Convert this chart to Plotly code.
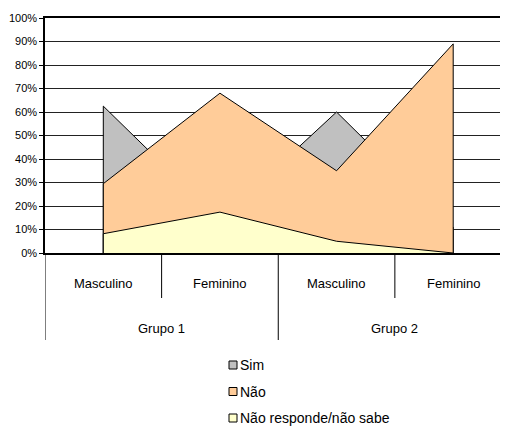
import plotly.graph_objects as go

categories = ["Masculino", "Feminino", "Masculino", "Feminino"]
groups = ["Grupo 1", "Grupo 2"]
series_names = ["Sim", "Não", "Não responde/não sabe"]
sim = [0.625, 0.14, 0.60, 0.11]
nao = [0.295, 0.68, 0.35, 0.89]
nao_resp = [0.082, 0.174, 0.05, 0.0]
y_ticks = [i / 10 for i in range(11)]

colors = ["#C0C0C0", "#FFCC99", "#FFFFCC"]
OFF = 8  # page body margin
W, H = 508 - OFF, 428 - OFF
L, T = 45 - OFF, 18 - OFF
B = H - (253 - OFF)
PW, PH = W - L, H - T - B
FONT = "Liberation Sans, Arial, sans-serif"

def px2x(px):
    return (px - OFF - L) / PW

def py2y(py):
    return (H - B - (py - OFF)) / PH

xs = list(range(len(categories)))
fig = go.Figure()
for name, vals, col in zip(series_names, [sim, nao, nao_resp], colors):
    fig.add_trace(go.Scatter(
        x=[xs[0]] + xs + [xs[-1]],
        y=[0] + vals + [0],
        mode="lines", fill="toself", fillcolor=col,
        line=dict(color="black", width=1),
        name=name, showlegend=False, hoverinfo="skip"))

shapes = []
annotations = []
# category dividers
for xv, bottom in [(-0.5, 340), (0.5, 298), (1.5, 340), (2.5, 298)]:
    shapes.append(dict(type="line", xref="x", yref="paper", x0=xv, x1=xv,
                       y0=0, y1=py2y(bottom), line=dict(color="black", width=1)))
for xv, c in zip(xs, categories):
    annotations.append(dict(x=xv, y=py2y(283), xref="x", yref="paper", text=c,
                            showarrow=False, yanchor="middle",
                            font=dict(size=13, color="black", family=FONT)))
for gi, g in enumerate(groups):
    annotations.append(dict(x=2 * gi + 0.5, y=py2y(328), xref="x", yref="paper", text=g,
                            showarrow=False, yanchor="middle",
                            font=dict(size=13, color="black", family=FONT)))
# legend
for i, (name, col) in enumerate(zip(series_names, colors)):
    cy = 365 + i * 26.5
    shapes.append(dict(type="rect", xref="paper", yref="paper",
                       x0=px2x(229), x1=px2x(237), y0=py2y(cy - 4), y1=py2y(cy + 4),
                       fillcolor=col, line=dict(color="black", width=1)))
    annotations.append(dict(x=px2x(237.5), y=py2y(cy), xref="paper", yref="paper",
                            text=name, showarrow=False, xanchor="left", yanchor="middle",
                            font=dict(size=14, color="black", family=FONT)))

fig.update_layout(
    width=W, height=H,
    margin=dict(l=L, r=0, t=T, b=B, autoexpand=False),
    paper_bgcolor="white", plot_bgcolor="white",
    shapes=shapes, annotations=annotations,
    xaxis=dict(range=[-0.5, 3.47], showgrid=False, zeroline=False, automargin=False,
               showticklabels=False, showline=True, linecolor="black",
               linewidth=2, mirror=True, ticks=""),
    yaxis=dict(range=[0, 1], tickvals=y_ticks, tickformat=".0%", automargin=False,
               showgrid=True, gridcolor="#222222", gridwidth=1,
               zeroline=False, showline=True, linecolor="black", linewidth=1.5,
               ticks="outside", ticklen=4, tickcolor="black",
               tickfont=dict(size=11, color="black", family=FONT)),
)
fig.write_html("out.html")
